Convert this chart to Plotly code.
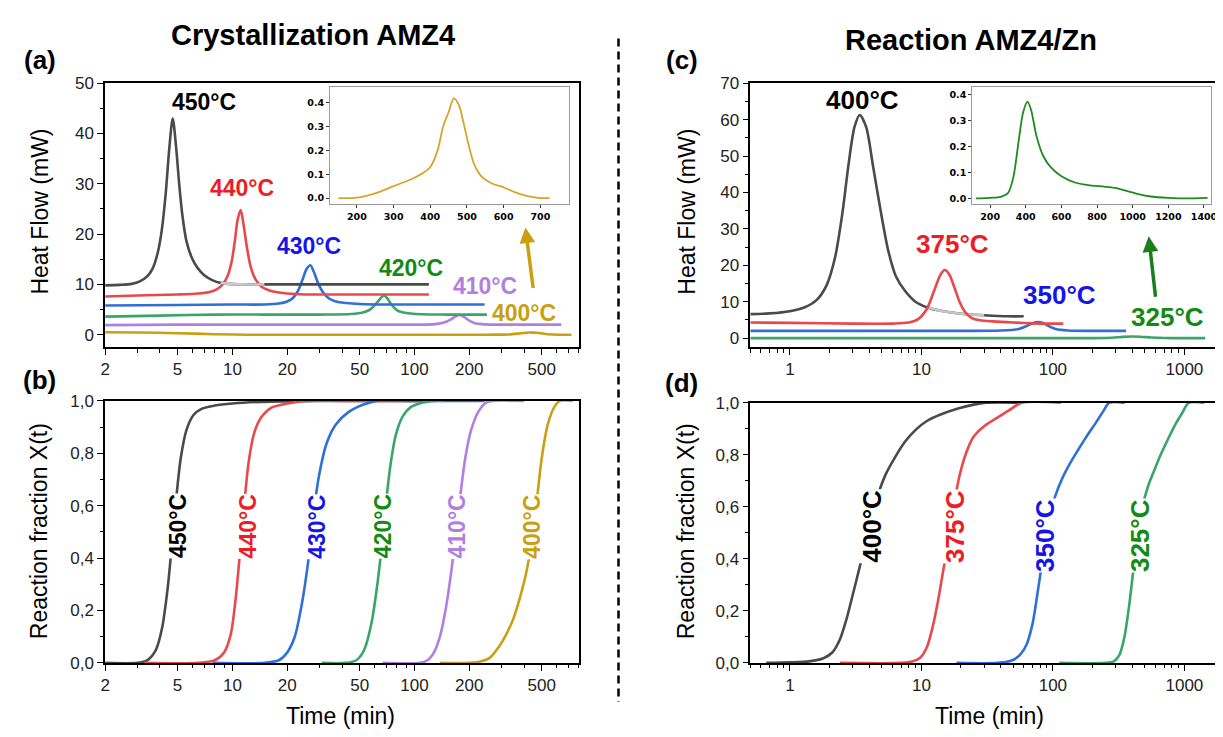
import math
import plotly.graph_objects as go

W, H = 1223, 737

# ---------------- DATA ----------------
# (a) Crystallization AMZ4 - DSC heat flow (mW) vs time (min)
a450_t = [2.0, 2.4, 2.8, 3.1, 3.4, 3.65, 3.9, 4.1, 4.3, 4.5, 4.7, 4.9, 5.1, 5.3, 5.6, 6.0, 6.4, 7.0, 7.8, 8.6, 10, 15, 30, 60, 120]
a450_q = [9.8, 9.9, 10.1, 10.6, 11.6, 13.2, 16.5, 21, 28, 37, 43, 37.5, 30, 24, 18.5, 15.2, 13.4, 11.8, 10.8, 10.3, 10.05, 10.0, 10.0, 10.0, 10.0]
a440_t = [2.0, 3, 5, 6.5, 7.5, 8.2, 8.8, 9.4, 9.9, 10.3, 10.7, 11.1, 11.5, 12.0, 12.6, 13.4, 14.5, 16, 18, 20, 25, 40, 70, 120]
a440_q = [7.6, 7.8, 8.0, 8.2, 8.5, 9.0, 9.9, 11.6, 14.5, 18.5, 23, 24.8, 22, 17.5, 13.5, 11, 9.5, 8.8, 8.4, 8.2, 8.0, 8.0, 8.0, 8.0]
a430_t = [2, 5, 10, 15, 18, 20, 21.5, 23, 24.3, 25.5, 26.8, 28.0, 29.5, 31.5, 34, 37, 42, 50, 70, 120, 243]
a430_q = [5.8, 5.9, 6.0, 6.0, 6.2, 6.6, 7.3, 8.8, 11, 13, 13.8, 12.5, 10.3, 8.4, 7.2, 6.6, 6.3, 6.1, 6.0, 6.0, 6.0]
a420_t = [2, 4, 8, 15, 30, 45, 52, 57, 61, 65, 68, 71, 75, 80, 87, 95, 110, 150, 250]
a420_q = [3.6, 3.8, 4.0, 4.0, 4.0, 4.1, 4.4, 5.0, 6.0, 7.2, 7.8, 7.2, 5.9, 4.9, 4.4, 4.2, 4.05, 4.0, 4.0]
a410_t = [2, 5, 20, 60, 100, 130, 145, 158, 168, 178, 188, 200, 215, 235, 270, 350, 640]
a410_q = [1.9, 2.0, 2.0, 2.0, 2.0, 2.1, 2.4, 3.0, 3.6, 3.9, 3.5, 2.8, 2.3, 2.1, 2.0, 2.0, 2.0]
a400_t = [2, 3, 5, 8, 12, 30, 100, 250, 330, 380, 430, 480, 540, 620, 728]
a400_q = [0.5, 0.45, 0.3, 0.1, 0.0, 0.0, 0.0, 0.0, 0.05, 0.25, 0.45, 0.35, 0.1, 0.0, 0.0]

# inset (a): 400°C heat flow
ia_t = [150, 200, 250, 300, 350, 380, 400, 420, 435, 450, 464, 478, 490, 505, 520, 540, 570, 600, 630, 660, 700, 725]
ia_q = [0.0, 0.002, 0.02, 0.05, 0.08, 0.105, 0.13, 0.2, 0.3, 0.36, 0.418, 0.39, 0.32, 0.22, 0.14, 0.09, 0.06, 0.045, 0.025, 0.01, 0.0, 0.0]

# (b) Crystallization AMZ4 - reaction fraction
b450_t = [2, 3.0, 3.4, 3.8, 4.1, 4.4, 4.65, 4.9, 5.2, 5.6, 6.1, 6.8, 8, 10, 14, 30, 120]
b450_x = [0, 0, 0.01, 0.05, 0.13, 0.28, 0.45, 0.62, 0.78, 0.89, 0.945, 0.97, 0.982, 0.99, 0.996, 1.0, 1.0]
b440_t = [3.3, 6.5, 8, 9, 9.8, 10.4, 11, 11.6, 12.3, 13.2, 14.5, 16.5, 20, 25, 40, 120]
b440_x = [0, 0, 0.01, 0.04, 0.11, 0.24, 0.42, 0.6, 0.77, 0.88, 0.94, 0.975, 0.99, 1.0, 1.0, 1.0]
b430_t = [7.8, 15, 18, 20, 22, 24, 26, 28, 30, 33, 37, 43, 52, 62, 100, 243]
b430_x = [0, 0, 0.01, 0.04, 0.1, 0.22, 0.38, 0.58, 0.72, 0.84, 0.91, 0.955, 0.985, 1.0, 1.0, 1.0]
b420_t = [31, 42, 48, 53, 58, 62, 66, 70, 74, 79, 86, 95, 110, 130, 148]
b420_x = [0, 0, 0.01, 0.05, 0.15, 0.28, 0.44, 0.62, 0.76, 0.87, 0.94, 0.975, 0.993, 1.0, 1.0]
b410_t = [67, 105, 118, 128, 138, 148, 158, 168, 178, 190, 205, 225, 250, 270, 400]
b410_x = [0, 0, 0.01, 0.04, 0.1, 0.2, 0.33, 0.48, 0.63, 0.78, 0.89, 0.96, 0.995, 1.0, 1.0]
b400_t = [138, 200, 230, 260, 290, 320, 350, 380, 410, 440, 470, 500, 540, 590, 630, 740]
b400_x = [0, 0, 0.005, 0.02, 0.06, 0.11, 0.17, 0.25, 0.34, 0.46, 0.62, 0.78, 0.91, 0.98, 1.0, 1.0]

# (c) Reaction AMZ4/Zn - DSC heat flow
c400_t = [0.5, 0.7, 1.0, 1.3, 1.6, 1.9, 2.2, 2.5, 2.8, 3.1, 3.4, 3.8, 4.3, 4.9, 5.6, 6.4, 7.5, 9, 11, 14, 20, 30, 45, 60]
c400_q = [6.6, 6.8, 7.4, 8.5, 10.5, 14.5, 22, 34, 48, 58, 61.3, 58, 47, 35, 24, 17, 13, 10, 8.5, 7.5, 6.7, 6.3, 6.0, 6.0]
c375_t = [0.5, 1, 3, 6, 8, 9.5, 11, 12.5, 14, 15.1, 16.3, 17.8, 19.5, 21.5, 24, 28, 35, 50, 80, 120]
c375_q = [4.3, 4.2, 4.0, 4.0, 4.3, 5.3, 8, 13, 17.5, 18.7, 17.5, 14, 10, 7.2, 5.6, 4.9, 4.6, 4.3, 4.0, 4.0]
c350_t = [0.5, 1, 5, 20, 40, 55, 63, 70, 77, 85, 93, 105, 130, 200, 360]
c350_q = [2.0, 2.0, 2.0, 2.0, 2.1, 2.5, 3.3, 4.1, 4.4, 4.1, 3.3, 2.5, 2.1, 2.0, 2.0]
c325_t = [0.5, 10, 100, 200, 280, 340, 400, 460, 560, 700, 900, 1440]
c325_q = [0.0, 0.0, 0.0, 0.0, 0.1, 0.35, 0.45, 0.4, 0.2, 0.05, 0.0, 0.0]

# inset (c): 325°C heat flow
ic_t = [120, 200, 260, 300, 330, 360, 385, 410, 430, 460, 500, 540, 600, 680, 760, 840, 900, 960, 1020, 1100, 1200, 1300, 1420]
ic_q = [0.0, 0.002, 0.006, 0.02, 0.08, 0.22, 0.33, 0.372, 0.34, 0.24, 0.16, 0.12, 0.085, 0.06, 0.05, 0.045, 0.04, 0.03, 0.018, 0.007, 0.002, 0.0, 0.002]

# (d) Reaction AMZ4/Zn - reaction fraction
d400_t = [0.66, 1.0, 1.4, 1.8, 2.1, 2.4, 2.7, 3.0, 3.4, 3.9, 4.5, 5.3, 6.3, 7.5, 9, 11, 14, 19, 25, 31, 58]
d400_x = [0, 0.002, 0.006, 0.018, 0.04, 0.09, 0.17, 0.26, 0.37, 0.5, 0.62, 0.72, 0.79, 0.85, 0.895, 0.93, 0.955, 0.978, 0.993, 1.0, 1.0]
d375_t = [2.4, 7, 8.5, 9.8, 11, 12.2, 13.4, 14.6, 16, 17.6, 19.5, 22, 25, 30, 37, 46, 58, 115]
d375_x = [0, 0, 0.005, 0.02, 0.06, 0.14, 0.24, 0.35, 0.46, 0.6, 0.72, 0.81, 0.87, 0.91, 0.94, 0.97, 1.0, 1.0]
d350_t = [18.5, 38, 48, 56, 63, 70, 76, 83, 92, 104, 118, 136, 156, 180, 210, 240, 268, 352]
d350_x = [0, 0, 0.008, 0.03, 0.07, 0.15, 0.26, 0.39, 0.53, 0.64, 0.71, 0.77, 0.82, 0.87, 0.92, 0.965, 1.0, 1.0]
d325_t = [112, 250, 290, 320, 350, 380, 410, 440, 480, 530, 590, 660, 750, 860, 960, 1080, 1415]
d325_x = [0, 0, 0.006, 0.03, 0.1, 0.22, 0.36, 0.48, 0.6, 0.68, 0.74, 0.8, 0.86, 0.92, 0.96, 1.0, 1.0]

# tick labels
ab_xtick_vals = [2, 5, 10, 20, 50, 100, 200, 500]
ab_xminor_vals = [3, 4, 6, 7, 8, 9, 30, 40, 60, 70, 80, 90, 300, 400, 600, 700, 800]
cd_xtick_vals = [1, 10, 100, 1000]
cd_xminor_vals = [0.5, 0.6, 0.7, 0.8, 0.9, 2, 3, 4, 5, 6, 7, 8, 9, 20, 30, 40, 50, 60, 70, 80, 90,
                  200, 300, 400, 500, 600, 700, 800, 900]
frac_tick_vals = [0, 0.2, 0.4, 0.6, 0.8, 1.0]
frac_tick_text = ["0,0", "0,2", "0,4", "0,6", "0,8", "1,0"]

# ---------------- STYLE ----------------
GRAY, RED, BLUE, GREEN, PURPLE, GOLD = "#4a4a4a", "#e84a4c", "#2f6fd6", "#3aa56a", "#b27fe0", "#c9a011"
LRED, LBLUE, LGREEN = "#ee1c25", "#1515e6", "#138a13"
FONT = "Liberation Sans, Arial, sans-serif"


def px(x):
    return x / W


def py(y):
    return 1 - y / H


fig = go.Figure()


def add(t, v, color, xa, ya, width=2.6):
    fig.add_trace(go.Scatter(x=t, y=v, mode="lines", xaxis=xa, yaxis=ya,
                             line=dict(color=color, width=width, shape="spline", smoothing=0.8),
                             showlegend=False, hoverinfo="skip"))


def segment(t, v, lo, hi):
    pts = [(a, b) for a, b in zip(t, v) if lo <= a <= hi]
    return [p[0] for p in pts], [p[1] for p in pts]


# (a)
for t, v, c in [(a400_t, a400_q, GOLD), (a410_t, a410_q, PURPLE), (a420_t, a420_q, GREEN),
                (a430_t, a430_q, BLUE), (a440_t, a440_q, RED), (a450_t, a450_q, GRAY)]:
    add(t, v, c, "x", "y")
st, sv = segment(a450_t, a450_q, 8.6, 15)
add(st, sv, "#c9c9c9", "x", "y")
# (b)
for t, v, c in [(b450_t, b450_x, GRAY), (b440_t, b440_x, RED), (b430_t, b430_x, BLUE),
                (b420_t, b420_x, GREEN), (b410_t, b410_x, PURPLE), (b400_t, b400_x, GOLD)]:
    add(t, v, c, "x2", "y2")
# (c)
for t, v, c in [(c325_t, c325_q, GREEN), (c350_t, c350_q, BLUE), (c400_t, c400_q, GRAY)]:
    add(t, v, c, "x3", "y3")
st, sv = segment(c400_t, c400_q, 11, 30)
add(st, sv, "#c6c6c6", "x3", "y3")
add(c375_t, c375_q, RED, "x3", "y3")
# (d)
for t, v, c in [(d400_t, d400_x, GRAY), (d375_t, d375_x, RED), (d350_t, d350_x, BLUE), (d325_t, d325_x, GREEN)]:
    add(t, v, c, "x4", "y4")
# insets
add(ia_t, ia_q, "#d4a52a", "x5", "y5", width=1.8)
add(ic_t, ic_q, "#1f8a1f", "x6", "y6", width=1.8)

tickfont = dict(family=FONT, size=17, color="#222")
base = dict(showline=True, linecolor="black", linewidth=1.5, mirror=True, ticks="outside",
            ticklen=6, tickwidth=1.3, tickcolor="black", showgrid=False, zeroline=False,
            tickfont=tickfont)
minor_base = dict(ticks="outside", ticklen=3.5, tickwidth=1.1, tickcolor="black", showgrid=False)

dom_ab_x = [px(93), px(571)]
dom_cd_x = [px(744), px(1219)]
dom_ac_y = [py(339), py(68)]
dom_b_y = [py(663), py(394)]
dom_d_y = [py(663), py(396)]

layout = dict(
    width=W, height=H, margin=dict(l=0, r=0, t=0, b=0),
    paper_bgcolor="white", plot_bgcolor="white",
    xaxis=dict(base, type="log", domain=dom_ab_x, anchor="y", range=[math.log10(2), math.log10(800)],
               tickvals=ab_xtick_vals, ticktext=[str(v) for v in ab_xtick_vals],
               minor=dict(minor_base, tickvals=ab_xminor_vals)),
    yaxis=dict(base, domain=dom_ac_y, anchor="x", range=[-2.5, 50], tickvals=[0, 10, 20, 30, 40, 50],
               minor=dict(minor_base, dtick=5)),
    xaxis2=dict(base, type="log", domain=dom_ab_x, anchor="y2", range=[math.log10(2), math.log10(800)],
                tickvals=ab_xtick_vals, ticktext=[str(v) for v in ab_xtick_vals],
                minor=dict(minor_base, tickvals=ab_xminor_vals)),
    yaxis2=dict(base, domain=dom_b_y, anchor="x2", range=[0, 1], tickvals=frac_tick_vals, ticktext=frac_tick_text,
                minor=dict(minor_base, dtick=0.1)),
    xaxis3=dict(base, type="log", domain=dom_cd_x, anchor="y3", range=[math.log10(0.5), math.log10(1900)],
                tickvals=cd_xtick_vals, ticktext=[str(v) for v in cd_xtick_vals],
                minor=dict(minor_base, tickvals=cd_xminor_vals)),
    yaxis3=dict(base, domain=dom_ac_y, anchor="x3", range=[-2.5, 70], tickvals=[0, 10, 20, 30, 40, 50, 60, 70],
                minor=dict(minor_base, dtick=5)),
    xaxis4=dict(base, type="log", domain=dom_cd_x, anchor="y4", range=[math.log10(0.5), math.log10(1900)],
                tickvals=cd_xtick_vals, ticktext=[str(v) for v in cd_xtick_vals],
                minor=dict(minor_base, tickvals=cd_xminor_vals)),
    yaxis4=dict(base, domain=dom_d_y, anchor="x4", range=[0, 1], tickvals=frac_tick_vals, ticktext=frac_tick_text,
                minor=dict(minor_base, dtick=0.1)),
)

inset_base = dict(showline=True, linecolor="#9a9a9a", linewidth=1.2, mirror=True, ticks="outside",
                  ticklen=3, tickwidth=1, tickcolor="#333", showgrid=False, zeroline=False,
                  tickfont=dict(family="DejaVu Sans", size=9.5, color="black", weight="bold"))
layout["xaxis5"] = dict(inset_base, domain=[px(320), px(561)], anchor="y5", range=[127, 778],
                        tickvals=[200, 300, 400, 500, 600, 700])
layout["yaxis5"] = dict(inset_base, domain=[py(192), py(72)], anchor="x5", range=[-0.025, 0.465],
                        tickvals=[0, 0.1, 0.2, 0.3, 0.4], tickformat=".1f")
layout["xaxis6"] = dict(inset_base, domain=[px(968), px(1209)], anchor="y6", range=[100, 1440],
                        tickvals=[200, 400, 600, 800, 1000, 1200, 1400])
layout["yaxis6"] = dict(inset_base, domain=[py(192), py(72)], anchor="x6", range=[-0.022, 0.428],
                        tickvals=[0, 0.1, 0.2, 0.3, 0.4], tickformat=".1f")

fig.update_layout(**layout)

ann = []


def text(x, y, s, size, color="black", bold=True, angle=0, bg=None):
    d = dict(x=px(x), y=py(y), xref="paper", yref="paper", showarrow=False,
             text=("<b>%s</b>" % s) if bold else s, textangle=angle,
             font=dict(family=FONT, size=size, color=color), xanchor="center", yanchor="middle")
    if bg:
        d.update(bgcolor=bg, borderpad=0)
    ann.append(d)


# titles & panel letters
text(303, 18, "Crystallization AMZ4", 29)
text(967, 24, "Reaction AMZ4/Zn", 29)
text(27, 44, "(a)", 26)
text(27, 373, "(b)", 26)
text(675, 44, "(c)", 26)
text(675, 376, "(d)", 26)

# axis titles
text(27, 200, "Heat Flow (mW)", 23, bold=False, angle=-90)
text(27, 528, "Reaction fraction X(t)", 23, bold=False, angle=-90)
text(680, 200, "Heat Flow (mW)", 23, bold=False, angle=-90)
text(680, 528, "Reaction fraction X(t)", 23, bold=False, angle=-90)
text(330, 718, "Time (min)", 23, bold=False)
text(985, 718, "Time (min)", 23, bold=False)

# (a) peak labels
text(193, 87, "450°C", 23, "black")
text(231, 176, "440°C", 23, LRED)
text(299, 235, "430°C", 23, LBLUE)
text(402, 258, "420°C", 23, LGREEN)
text(476, 276, "410°C", 23, PURPLE)
text(516, 304, "400°C", 23, GOLD)

# (b) rotated labels
for x, s, c in [(166, "450°C", "black"), (237, "440°C", LRED), (306, "430°C", LBLUE),
                (373, "420°C", LGREEN), (448, "410°C", PURPLE), (523, "400°C", GOLD)]:
    text(x, 523, s, 23, c, angle=-90, bg="white")

# (c) peak labels
text(857, 85, "400°C", 26, "black")
text(948, 233, "375°C", 26, LRED)
text(1056, 285, "350°C", 26, LBLUE)
text(1165, 308, "325°C", 26, LGREEN)

# (d) rotated labels
for x, y, s, c in [(866, 523, "400°C", "black"), (950, 523, "375°C", LRED),
                   (1042, 532, "350°C", LBLUE), (1138, 532, "325°C", LGREEN)]:
    text(x, y, s, 26, c, angle=-90, bg="white")

# arrows pointing to insets
ann.append(dict(x=px(517), y=py(216), xref="paper", yref="paper", ax=8, ay=62, showarrow=True,
                arrowhead=2, arrowsize=0.9, arrowwidth=3.5, arrowcolor=GOLD, text=""))
ann.append(dict(x=px(1146), y=py(225), xref="paper", yref="paper", ax=7, ay=62, showarrow=True,
                arrowhead=2, arrowsize=0.9, arrowwidth=3.5, arrowcolor="#1a7f1a", text=""))

fig.update_layout(annotations=ann)

# dashed divider
fig.add_shape(type="line", xref="paper", yref="paper", x0=px(611), x1=px(611), y0=py(22), y1=py(703),
              line=dict(color="black", width=2.5, dash="8px,5px"))

fig.write_html("out.html")
